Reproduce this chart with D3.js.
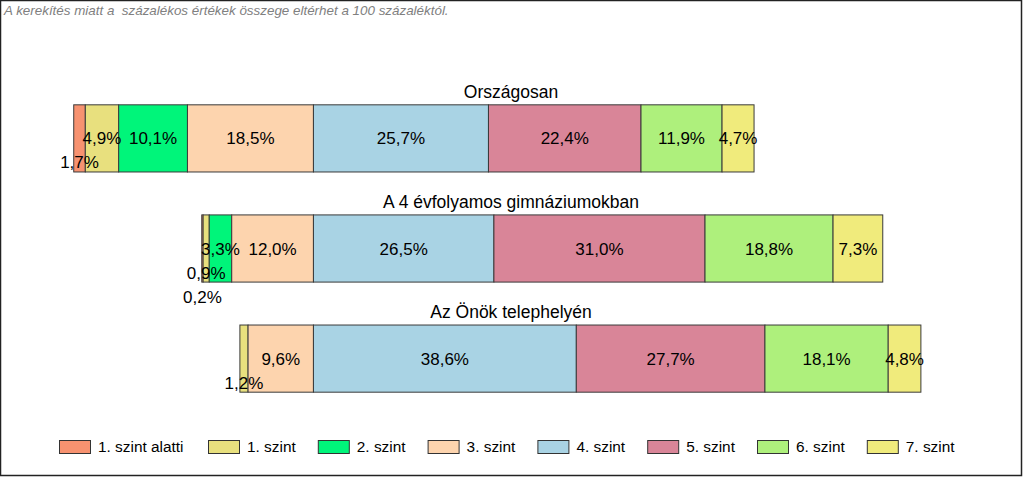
<!DOCTYPE html>
<html><head><meta charset="utf-8">
<script src="https://cdn.jsdelivr.net/npm/d3@7"></script>
<style>body{margin:0;background:#fff}svg{display:block}</style>
</head><body>
<svg id="c" width="1024" height="478"></svg>
<script>
const groups = ["Országosan", "A 4 évfolyamos gimnáziumokban", "Az Önök telephelyén"];
const levels = ["1. szint alatti", "1. szint", "2. szint", "3. szint", "4. szint", "5. szint", "6. szint", "7. szint"];
const colors = ["#F79270", "#E8E07E", "#00F57A", "#FDD4AE", "#A9D3E4", "#D98598", "#AEF07C", "#F0EB7C"];
const valuesOrszagos = [1.7, 4.9, 10.1, 18.5, 25.7, 22.4, 11.9, 4.7];
const valuesGimn = [0.2, 0.9, 3.3, 12.0, 26.5, 31.0, 18.8, 7.3];
const valuesTelep = [0, 1.2, 0, 9.6, 38.6, 27.7, 18.1, 4.8];
const series = [valuesOrszagos, valuesGimn, valuesTelep];
const note = "A kerekítés miatt a  százalékos értékek összege eltérhet a 100 százaléktól.";

const svg = d3.select("#c");
const font = "Liberation Sans, Arial, sans-serif";

svg.append("rect").attr("x", 0.5).attr("y", 0.5).attr("width", 1021).attr("height", 475)
  .attr("fill", "#fff").attr("stroke", "#222").attr("stroke-width", 1.5);

svg.append("text").attr("x", 4).attr("y", 15).text(note).style("white-space", "pre")
  .attr("font-family", font).attr("font-size", 13.4).attr("font-style", "italic").attr("fill", "#808080");

// diverging scale: 0 at boundary between 3. and 4. szint
const x = d3.scaleLinear().domain([-34.5, 65.5]).range([78.5, 759.5]);
const y = d3.scaleBand().domain(groups).range([85, 412]).paddingInner(0.39).paddingOuter(0.18);
const splitIdx = 4;

groups.forEach((g, gi) => {
  const vals = series[gi];
  const leftSum = d3.sum(vals.slice(0, splitIdx));
  let cum = -leftSum;
  const segs = vals.map((v, i) => { const s = {v, i, x0: cum, x1: cum + v}; cum += v; return s; });
  const y0 = y(g), bh = y.bandwidth();
  const gEl = svg.append("g");
  const drawn = segs.filter(s => s.v > 0);
  gEl.selectAll("rect").data(drawn).join("rect")
    .attr("x", s => x(s.x0)).attr("y", y0)
    .attr("width", s => x(s.x1) - x(s.x0)).attr("height", bh)
    .attr("fill", s => colors[s.i]).attr("stroke", "#3a3a3a").attr("stroke-width", 1);
  svg.append("text").attr("x", 511).attr("y", y0 - 7).attr("text-anchor", "middle")
    .attr("font-family", font).attr("font-size", 17.5).attr("fill", "#000").text(g);
  const placed = [];
  const fmt = v => v.toFixed(1).replace(".", ",") + "%";
  const lab = [...drawn].reverse();
  lab.forEach(s => {
    const cx = (x(s.x0) + x(s.x1)) / 2;
    const t = gEl.append("text").attr("x", cx).attr("text-anchor", "middle")
      .attr("font-family", font).attr("font-size", 17).attr("fill", "#000").text(fmt(s.v));
    const w = t.node().getComputedTextLength();
    const a = cx - w / 2, b = cx + w / 2;
    let lvl = 0;
    while (placed.some(p => p.lvl === lvl && a < p.b - 1 && b > p.a + 1)) lvl++;
    placed.push({a, b, lvl});
    t.attr("y", y0 + bh / 2 + 6 + lvl * 24);
  });
});

// legend
let lx = 59;
const ly = 440;
levels.forEach((l, i) => {
  svg.append("rect").attr("x", lx + 0.5).attr("y", ly + 0.5).attr("width", 31).attr("height", 13)
    .attr("fill", colors[i]).attr("stroke", "#333").attr("stroke-width", 1);
  svg.append("text").attr("x", lx + 39).attr("y", ly + 12)
    .attr("font-family", font).attr("font-size", 15.4).attr("fill", "#000").text(l);
  lx = 208 + 109.8 * i;
});
</script>
</body></html>
